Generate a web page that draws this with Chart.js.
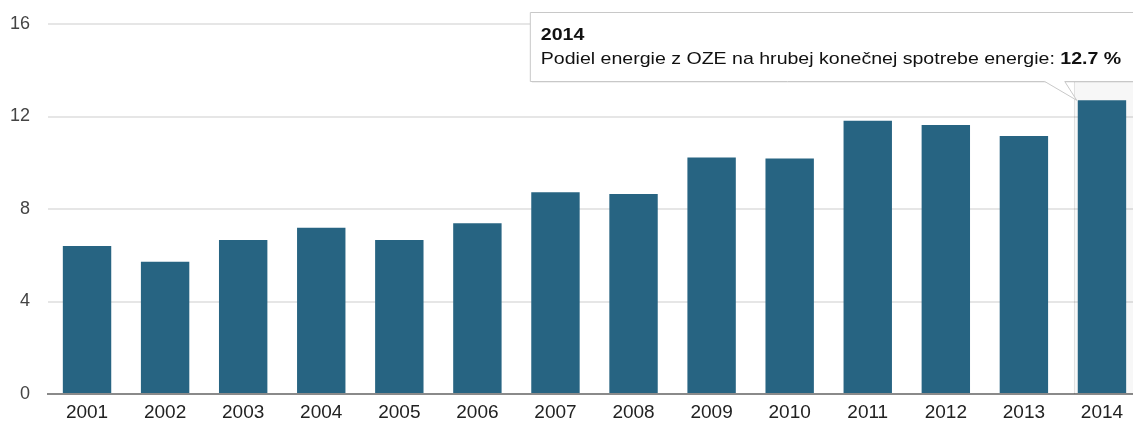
<!DOCTYPE html>
<html>
<head>
<meta charset="utf-8">
<script src="https://cdn.jsdelivr.net/npm/chart.js@4"></script>
<style>
  html, body { margin: 0; padding: 0; background: #fff; overflow: hidden; }
  #wrap { width: 1141px; height: 423px; position: relative; }
</style>
</head>
<body>
<div id="wrap"><canvas id="c" width="1141" height="423"></canvas></div>
<script>
const categories = ['2001','2002','2003','2004','2005','2006','2007','2008','2009','2010','2011','2012','2013','2014'];
const shareValues = [6.4, 5.72, 6.66, 7.19, 6.66, 7.38, 8.72, 8.65, 10.23, 10.18, 11.82, 11.63, 11.16, 12.7];
const yTicks = [0, 4, 8, 12, 16];
const seriesLabel = 'Podiel energie z OZE na hrubej konečnej spotrebe energie';
const highlightIndex = 13;

const highlightPlugin = {
  id: 'highlight',
  beforeDatasetsDraw(chart) {
    const bar = chart.getDatasetMeta(0).data[highlightIndex];
    if (!bar) return;
    const ctx = chart.ctx, a = chart.chartArea;
    const l = bar.x - bar.width / 2 - 4;
    ctx.save();
    ctx.fillStyle = 'rgba(0,0,0,0.03)';
    ctx.fillRect(l, a.top, a.right - l, a.bottom - a.top);
    ctx.strokeStyle = 'rgba(0,0,0,0.09)';
    ctx.lineWidth = 1;
    ctx.beginPath();
    ctx.moveTo(Math.round(l) + 0.5, a.top);
    ctx.lineTo(Math.round(l) + 0.5, a.bottom);
    ctx.stroke();
    ctx.restore();
  }
};

const tipPlugin = {
  id: 'fixedTip',
  afterDraw(chart) {
    const bar = chart.getDatasetMeta(0).data[highlightIndex];
    if (!bar) return;
    const ctx = chart.ctx;
    const sx = 1.15;
    const title = categories[highlightIndex];
    const lead = seriesLabel + ': ';
    const val = shareValues[highlightIndex].toFixed(1) + ' %';
    ctx.save();
    ctx.font = '17px "Liberation Sans", Arial, sans-serif';
    const wLead = ctx.measureText(lead).width;
    ctx.font = 'bold 17px "Liberation Sans", Arial, sans-serif';
    const wVal = ctx.measureText(val).width;
    const textW = (wLead + wVal) * sx;
    const apexX = bar.x - bar.width / 2 - 1;
    const apexY = bar.y;
    const boxRight = bar.x + bar.width / 2 + 7;
    const boxLeft = boxRight - textW - 23;
    const boxTop = 12, boxBottom = 81;
    const baseL = apexX - 32, baseR = apexX - 12;
    ctx.fillStyle = 'rgba(0,0,0,0.06)';
    ctx.fillRect(boxLeft + 2, boxTop + 2, boxRight - boxLeft, boxBottom - boxTop);
    ctx.beginPath();
    ctx.moveTo(boxLeft + 0.5, boxTop + 0.5);
    ctx.lineTo(boxRight + 0.5, boxTop + 0.5);
    ctx.lineTo(boxRight + 0.5, boxBottom + 0.5);
    ctx.lineTo(baseR, boxBottom + 0.5);
    ctx.lineTo(apexX, apexY);
    ctx.lineTo(baseL, boxBottom + 0.5);
    ctx.lineTo(boxLeft + 0.5, boxBottom + 0.5);
    ctx.closePath();
    ctx.fillStyle = '#ffffff';
    ctx.fill();
    ctx.strokeStyle = '#c8c8c8';
    ctx.lineWidth = 1;
    ctx.stroke();
    const tx = boxLeft + 11;
    ctx.fillStyle = '#111';
    ctx.textBaseline = 'alphabetic';
    ctx.textAlign = 'left';
    ctx.translate(tx, 0);
    ctx.scale(sx, 1);
    ctx.font = 'bold 17px "Liberation Sans", Arial, sans-serif';
    ctx.fillText(title, 0, 40);
    ctx.font = '17px "Liberation Sans", Arial, sans-serif';
    ctx.fillText(lead, 0, 64);
    ctx.font = 'bold 17px "Liberation Sans", Arial, sans-serif';
    ctx.fillText(val, wLead, 64);
    ctx.restore();
  }
};

new Chart(document.getElementById('c'), {
  type: 'bar',
  data: {
    labels: categories,
    datasets: [{
      label: seriesLabel,
      data: shareValues,
      backgroundColor: '#276482',
      borderWidth: 0,
      barPercentage: 0.62,
      categoryPercentage: 1.0
    }]
  },
  options: {
    responsive: false,
    animation: false,
    layout: { padding: { top: 24, left: 0, right: 0, bottom: 0 } },
    plugins: { legend: { display: false }, tooltip: { enabled: false } },
    scales: {
      x: {
        afterFit(scale) { scale.height = 29; },
        grid: { display: false, drawTicks: false },
        border: { display: true, color: '#8a8a8a', width: 2 },
        ticks: { color: '#222', font: { family: '"Liberation Sans", Arial, sans-serif', size: 19 }, padding: 7, maxRotation: 0, autoSkip: false }
      },
      y: {
        min: 0, max: 16,
        afterBuildTicks(scale) { scale.ticks = yTicks.map(v => ({ value: v })); },
        afterFit(scale) { scale.width = 48; scale.paddingTop = 0; scale.paddingBottom = 0; },
        grid: { color: '#e6e6e6', lineWidth: 2, drawTicks: false },
        border: { display: false },
        ticks: { color: '#444', font: { family: '"Liberation Sans", Arial, sans-serif', size: 18 }, padding: 18 }
      }
    }
  },
  plugins: [highlightPlugin, tipPlugin]
});
</script>
</body>
</html>
